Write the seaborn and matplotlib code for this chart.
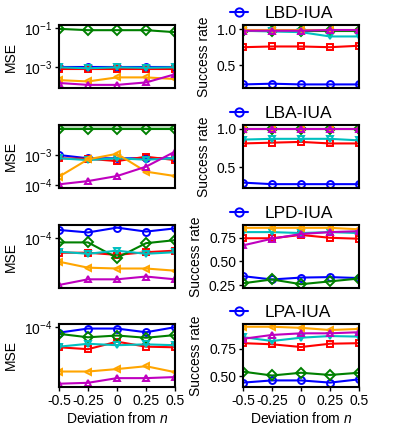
import matplotlib
matplotlib.use('Agg')
import matplotlib.pyplot as plt
import seaborn as sns
import pandas as pd

sns.set_style('ticks')
plt.rcParams['font.family'] = ['Liberation Sans', 'DejaVu Sans']
plt.rcParams['mathtext.fontset'] = 'custom'
plt.rcParams['mathtext.it'] = 'Liberation Sans:italic'
plt.rcParams['mathtext.rm'] = 'Liberation Sans'
plt.rcParams['text.color'] = 'black'
plt.rcParams['axes.labelcolor'] = 'black'
plt.rcParams['axes.edgecolor'] = 'black'
plt.rcParams['xtick.color'] = 'black'
plt.rcParams['ytick.color'] = 'black'

# x positions (deviation from n)
deviation = [-0.5, -0.25, 0, 0.25, 0.5]
xtick_labels = ['-0.5', '-0.25', '0', '0.25', '0.5']
methods = ['LBD-IUA', 'LBA-IUA', 'LPD-IUA', 'LPA-IUA']

# series order: blue o, red s, green D, cyan v, orange <, magenta ^
colors = ['blue', 'red', 'green', 'c', 'orange', 'm']
markers = ['o', 's', 'D', 'v', '<', '^']

# MSE per row
mse_lbd = [
    [1.0e-3, 1.0e-3, 1.0e-3, 1.0e-3, 1.0e-3],
    [7.6e-4, 7.6e-4, 7.6e-4, 7.6e-4, 7.6e-4],
    [0.089, 0.076, 0.076, 0.076, 0.060],
    [9.5e-4, 8.5e-4, 9.5e-4, 9.0e-4, 9.5e-4],
    [2.1e-4, 1.8e-4, 2.9e-4, 2.9e-4, 2.4e-4],
    [1.5e-4, 1.2e-4, 1.2e-4, 1.6e-4, 4.2e-4],
]
mse_lba = [
    [1.0e-3, 7.8e-4, 7.8e-4, 7.8e-4, 7.8e-4],
    [7.8e-4, 7.5e-4, 6.3e-4, 8.8e-4, 6.8e-4],
    [7.4e-3, 7.4e-3, 7.4e-3, 7.4e-3, 7.4e-3],
    [7.8e-4, 6.8e-4, 7.8e-4, 7.0e-4, 7.8e-4],
    [1.9e-4, 7.2e-4, 1.1e-3, 2.8e-4, 2.0e-4],
    [1.06e-4, 1.36e-4, 2.0e-4, 4.1e-4, 1.3e-3],
]
mse_lba_green_hi = [1.0e-2, 1.0e-2, 1.0e-2, 1.0e-2, 1.0e-2]
mse_lpd = [
    [1.26e-4, 1.17e-4, 1.35e-4, 1.2e-4, 1.32e-4],
    [6.4e-5, 6.4e-5, 6.0e-5, 6.5e-5, 6.8e-5],
    [8.7e-5, 8.7e-5, 5.5e-5, 8.5e-5, 9.3e-5],
    [6.6e-5, 6.2e-5, 6.8e-5, 6.2e-5, 6.5e-5],
    [4.9e-5, 4.1e-5, 4.0e-5, 4.0e-5, 3.75e-5],
    [2.45e-5, 2.9e-5, 2.9e-5, 3.15e-5, 2.9e-5],
]
mse_lpa = [
    [8.4e-5, 9.5e-5, 9.5e-5, 8.5e-5, 9.9e-5],
    [5.4e-5, 5.1e-5, 6.4e-5, 5.5e-5, 5.4e-5],
    [8.1e-5, 7.3e-5, 7.7e-5, 7.2e-5, 7.8e-5],
    [5.5e-5, 6.0e-5, 5.75e-5, 5.9e-5, 5.75e-5],
    [2.6e-5, 2.6e-5, 2.8e-5, 3.05e-5, 2.55e-5],
    [1.8e-5, 1.85e-5, 2.13e-5, 2.13e-5, 2.2e-5],
]

# success rate per row
sr_lbd = [
    [0.23, 0.24, 0.23, 0.23, 0.23],
    [0.75, 0.76, 0.76, 0.75, 0.77],
    [0.98, 0.98, 0.98, 0.98, 0.98],
    [0.98, 0.97, 0.96, 0.90, 0.90],
    [0.99, 0.99, 0.99, 0.99, 0.99],
    [0.98, 0.98, 0.98, 0.99, 0.99],
]
sr_lba = [
    [0.30, 0.28, 0.28, 0.28, 0.28],
    [0.81, 0.82, 0.83, 0.81, 0.81],
    [1.0, 1.0, 1.0, 1.0, 1.0],
    [0.86, 0.87, 0.87, 0.87, 0.85],
    [1.0, 1.0, 1.0, 1.0, 1.0],
    [1.0, 1.0, 1.0, 1.0, 1.0],
]
sr_lpd = [
    [0.345, 0.31, 0.33, 0.335, 0.325],
    [0.745, 0.745, 0.78, 0.75, 0.74],
    [0.27, 0.31, 0.26, 0.29, 0.32],
    [0.81, 0.81, 0.80, 0.81, 0.80],
    [0.855, 0.855, 0.855, 0.855, 0.84],
    [0.67, 0.74, 0.79, 0.81, 0.82],
]
sr_lpa = [
    [0.44, 0.46, 0.46, 0.44, 0.47],
    [0.80, 0.79, 0.765, 0.795, 0.80],
    [0.54, 0.505, 0.53, 0.51, 0.53],
    [0.855, 0.82, 0.85, 0.865, 0.86],
    [0.95, 0.95, 0.94, 0.92, 0.93],
    [0.84, 0.875, 0.89, 0.89, 0.90],
]

mse_rows = [mse_lbd, mse_lba, mse_lpd, mse_lpa]
sr_rows = [sr_lbd, sr_lba, sr_lpd, sr_lpa]
mse_ylims = [(8.3e-5, 0.14), (8e-5, 1.0e-2), (2.24e-5, 1.46e-4), (1.63e-5, 1.09e-4)]
mse_ticks = [[1e-1, 1e-3], [1e-3, 1e-4], [1e-4], [1e-4]]
sr_ylims = [(0.18, 1.06), (0.23, 1.05), (0.22, 0.885), (0.40, 0.975)]
sr_ticks = [([0.5, 1.0], ['0.5', '1.0']), ([0.5, 1.0], ['0.5', '1.0']),
            ([0.25, 0.5, 0.75], ['0.25', '0.50', '0.75']), ([0.5, 0.75], ['0.50', '0.75'])]

W, H = 399, 426
fig = plt.figure(figsize=(W / 100, H / 100), dpi=100)
row_tops = [25, 125, 225, 324]
ax_h = 63


def draw(ax, series):
    for vals, c, m in zip(series, colors, markers):
        d = pd.DataFrame({'x': deviation, 'y': vals})
        sns.lineplot(data=d, x='x', y='y', ax=ax, color=c, marker=m, markersize=5,
                     markerfacecolor='none', markeredgecolor=c, markeredgewidth=1.4,
                     linewidth=1.5)


for r in range(4):
    bottom = 1 - (row_tops[r] + ax_h) / H
    axl = fig.add_axes([59 / W, bottom, 116 / W, ax_h / H])
    axr = fig.add_axes([243 / W, bottom, 116 / W, ax_h / H])

    draw(axl, mse_rows[r])
    if r == 1:
        axl.fill_between(deviation, mse_lba[2], mse_lba_green_hi, color='green', alpha=0.25, linewidth=0)
    axl.set_yscale('log')
    axl.set_ylim(*mse_ylims[r])
    axl.set_yticks(mse_ticks[r])
    axl.yaxis.set_minor_locator(matplotlib.ticker.NullLocator())
    axl.set_ylabel('MSE', fontsize=10)

    draw(axr, sr_rows[r])
    axr.set_ylim(*sr_ylims[r])
    axr.set_yticks(sr_ticks[r][0])
    axr.set_yticklabels(sr_ticks[r][1])
    axr.set_ylabel('Success rate', fontsize=10)
    h = axr.lines[0]
    h.set_label(methods[r])
    axr.legend(handles=[h], loc='center left', bbox_to_anchor=(-0.17, 1.19), frameon=False,
               fontsize=12.5, handlelength=1.0, handletextpad=1.0, markerscale=1.2,
               borderaxespad=0)

    for ax in (axl, axr):
        ax.set_xlim(-0.5, 0.5)
        ax.set_xticks(deviation)
        ax.tick_params(labelsize=10, length=3, width=1, pad=2)
        for s in ax.spines.values():
            s.set_linewidth(1.5)
        if r == 3:
            ax.set_xticklabels(xtick_labels)
            ax.set_xlabel('Deviation from $n$', fontsize=10, labelpad=2)
        else:
            ax.set_xticklabels([])
            ax.tick_params(axis='x', length=0)
            ax.set_xlabel('')

fig.savefig('out.png', dpi=100)
